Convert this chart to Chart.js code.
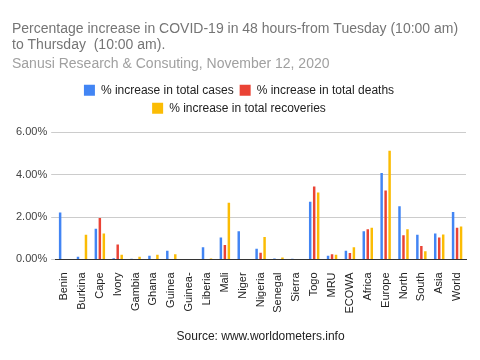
<!DOCTYPE html>
<html>
<head>
<meta charset="utf-8">
<script src="https://cdn.jsdelivr.net/npm/chart.js@4"></script>
<style>
html,body{margin:0;padding:0;background:#fff;}
#wrap{width:480px;height:360px;}
</style>
</head>
<body>
<div id="wrap"><canvas id="c" width="480" height="360"></canvas></div>
<script>
const categories = ["Benin","Burkina","Cape","Ivory","Gambia","Ghana","Guinea","Guinea-","Liberia","Mali","Niger","Nigeria","Senegal","Sierra","Togo","MRU","ECOWA","Africa","Europe","North","South","Asia","World"];
const casesPct =      [2.21,0.13,1.45,0.06,0.03,0.17,0.41,0,0.58,1.04,1.33,0.50,0.05,0.03,2.72,0.17,0.41,1.33,4.08,2.51,1.17,1.23,2.24];
const deathsPct =     [0,0,1.96,0.71,0,0,0,0,0,0.68,0,0.32,0,0,3.44,0.24,0.30,1.42,3.25,1.14,0.63,1.04,1.50];
const recoveriesPct = [0,1.17,1.23,0.22,0.13,0.22,0.25,0,0.05,2.67,0,1.06,0.09,0,3.16,0.22,0.58,1.50,5.13,1.42,0.39,1.18,1.55];
const yTicks = [0,2,4,6];
const seriesNames = ["% increase in total cases","% increase in total deaths","% increase in total recoveries"];
const titleLines = ["Percentage increase in COVID-19 in 48 hours-from Tuesday (10:00 am)","to Thursday  (10:00 am)."];
const subtitleText = "Sanusi Research & Consuting, November 12, 2020";
const sourceText = "Source: www.worldometers.info";

Chart.defaults.font.family = "'Liberation Sans', Arial, sans-serif";

const legendGap = {
  id: 'legendGap',
  beforeInit(chart) {
    const fit = chart.legend.fit;
    chart.legend.fit = function () { fit.call(this); this.height += 8; };
  }
};

new Chart(document.getElementById('c'), {
  type: 'bar',
  data: {
    labels: categories,
    datasets: [
      {label: seriesNames[0], data: casesPct, backgroundColor: '#4285f4'},
      {label: seriesNames[1], data: deathsPct, backgroundColor: '#ea4335'},
      {label: seriesNames[2], data: recoveriesPct, backgroundColor: '#fbbc04'}
    ]
  },
  plugins: [legendGap],
  options: {
    responsive: false,
    animation: false,
    categoryPercentage: 0.67,
    barPercentage: 0.62,
    layout: {padding: {left: 12, right: 14, top: 21, bottom: 12}},
    plugins: {
      tooltip: {enabled: false},
      title: {
        display: true, text: titleLines, align: 'start', color: '#757575',
        font: {size: 14, weight: 'normal', lineHeight: 1.15}, padding: {top: 0, bottom: 3}
      },
      subtitle: {
        display: true, text: subtitleText, align: 'start', color: '#a0a0a0',
        font: {size: 14, weight: 'normal', lineHeight: 1.15}, padding: {top: 0, bottom: 6}
      },
      legend: {
        position: 'top',
        labels: {
          boxWidth: 11, boxHeight: 11, padding: 6, color: '#222',
          font: {size: 12}
        }
      }
    },
    scales: {
      x: {
        grid: {display: false},
        border: {display: true, color: '#333', width: 1},
        ticks: {color: '#222', font: {size: 11}, minRotation: 90, maxRotation: 90, autoSkip: false, padding: 5},
        title: {display: true, text: sourceText, color: '#222', font: {size: 12}, padding: {top: 11}}
      },
      y: {
        min: 0, max: 6,
        afterBuildTicks: (axis) => { axis.ticks = yTicks.map(v => ({value: v})); },
        grid: {color: '#cccccc', tickLength: 4, drawTicks: true},
        border: {display: false},
        ticks: {color: '#444', font: {size: 11}, padding: 4,
          callback: (v) => v.toFixed(2) + '%'}
      }
    }
  }
});
</script>
</body>
</html>
